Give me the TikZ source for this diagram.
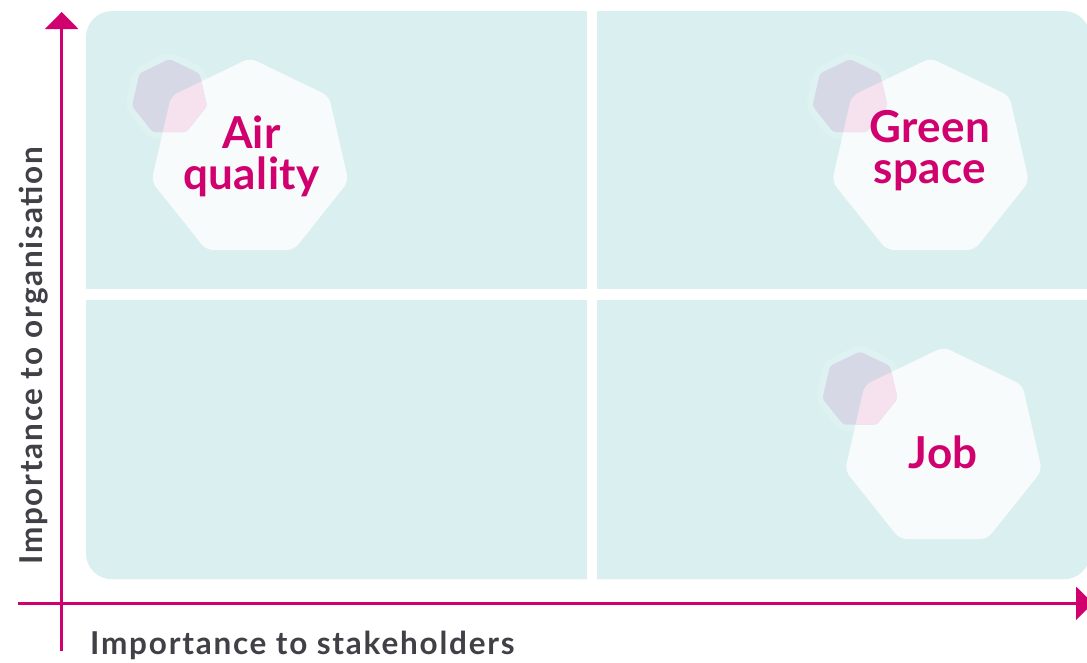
\documentclass[tikz,border=0pt]{standalone}
\usepackage{fontspec}
\setmainfont{Lato}
\usetikzlibrary{shapes.geometric,arrows.meta}
\definecolor{magentaC}{HTML}{D1006F}
\definecolor{panelC}{HTML}{D9EFF0}
\definecolor{heptC}{HTML}{F8FBFB}
\definecolor{lavC}{HTML}{D7D8E6}
\definecolor{pinkC}{HTML}{F5E2EE}
\definecolor{haloC}{HTML}{DEF2F2}
\definecolor{labelC}{HTML}{414046}
\tikzset{
  hept/.style={regular polygon, regular polygon sides=7, inner sep=0pt, outer sep=0pt, draw=none},
  bighept/.style={hept, minimum size=202pt, fill=heptC, rounded corners=7pt},
  smallhept/.style={hept, minimum size=77pt, fill=lavC, rounded corners=3pt},
  halohept/.style={hept, minimum size=92pt, fill=haloC, rounded corners=9pt},
  topic/.style={text=magentaC, font=\fontsize{44}{41}\selectfont\bfseries\addfontfeatures{LetterSpace=1}, align=center, inner sep=0pt},
  axislabel/.style={text=labelC, font=\fontsize{31.5}{36}\selectfont\bfseries\addfontfeatures{LetterSpace=5.6}, inner sep=0pt},
  axisline/.style={draw=magentaC, line width=2.6pt, -{Triangle[length=17pt,width=33pt]}},
  gapbar/.style={fill=white, draw=none}
}
\def\heptpath#1{(#1.corner 1) -- (#1.corner 2) -- (#1.corner 3) -- (#1.corner 4) -- (#1.corner 5) -- (#1.corner 6) -- (#1.corner 7) -- cycle}
\begin{document}
\begin{tikzpicture}[x=1pt,y=-1pt]
\clip (0,0) rectangle (1087,662);
\fill[white] (0,0) rectangle (1087,662);
% panels
\fill[panelC, rounded corners=26pt] (86,11) rectangle (1090,579.3);
\fill[gapbar] (586.7,0) rectangle (597.3,590);
\fill[gapbar] (80,289.3) rectangle (1090,300);
% Air quality
\node[halohept] (aqh) at (169.5,97.5) {};
\node[bighept] (aq) at (250,159) {};
\node[smallhept] (aqs) at (169.5,97.5) {};
\begin{scope}
  \clip[rounded corners=7pt] \heptpath{aq};
  \fill[pinkC, rounded corners=3pt] \heptpath{aqs};
\end{scope}
\node[topic] (aqt) at (251.5,156) {Air\\quality};
% Green space
\node[halohept] (gsh) at (850,97.5) {};
\node[bighept] (gs) at (930.5,159) {};
\node[smallhept] (gss) at (850,97.5) {};
\begin{scope}
  \clip[rounded corners=7pt] \heptpath{gs};
  \fill[pinkC, rounded corners=3pt] \heptpath{gss};
\end{scope}
\node[topic] (gst) at (930,150.5) {Green\\space};
% Job
\node[halohept] (jbh) at (860,390) {};
\node[bighept] (jb) at (943.5,448) {};
\node[smallhept] (jbs) at (860,390) {};
\begin{scope}
  \clip[rounded corners=7pt] \heptpath{jb};
  \fill[pinkC, rounded corners=3pt] \heptpath{jbs};
\end{scope}
\node[topic] (jbt) at (943,452.5) {Job};
% axes
\coordinate (yb) at (61.7,651);
\coordinate (yt) at (61.7,12);
\coordinate (xl) at (18,603.3);
\coordinate (xr) at (1093,603.3);
\draw[axisline] (yb) -- (yt);
\draw[axisline] (xl) -- (xr);
\node[axislabel, anchor=base west] (xlab) at (90,654) {Importance to stakeholders};
\node[axislabel, anchor=base west, rotate=90] (ylab) at (42,565) {Importance to organisation};
\end{tikzpicture}
\end{document}
